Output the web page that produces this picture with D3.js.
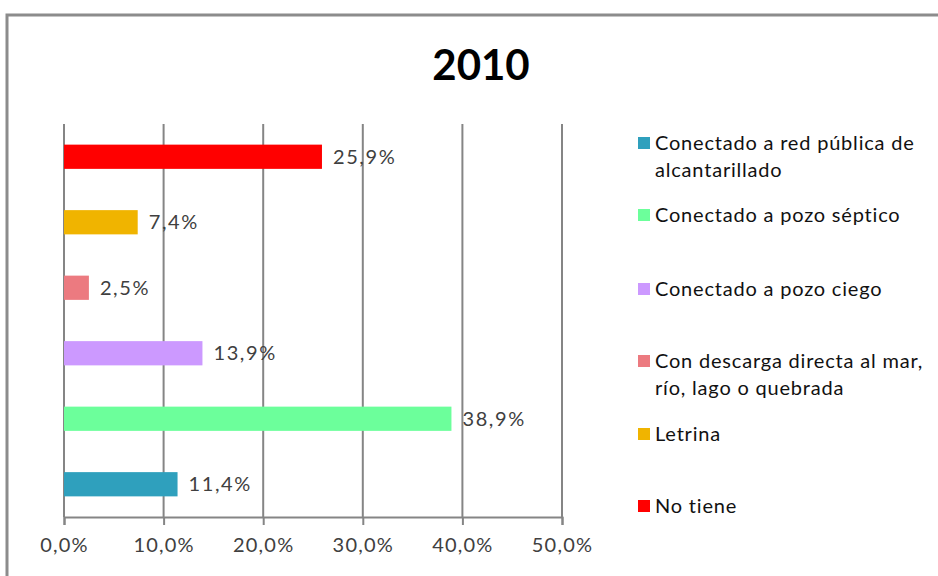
<!DOCTYPE html>
<html>
<meta charset="utf-8">
<style>
body { margin: 0; background: #fff; }
text { font-family: Lato, "Open Sans", sans-serif; }
</style>
<head>
<script src="https://cdn.jsdelivr.net/npm/d3@7"></script>
</head>
<body>
<script>
// categories listed bottom to top (same order as the legend)
var categories = ["Conectado a red pública de alcantarillado", "Conectado a pozo séptico",
                  "Conectado a pozo ciego", "Con descarga directa al mar, río, lago o quebrada",
                  "Letrina", "No tiene"];
var legendLines = [["Conectado a red pública de", "alcantarillado"], ["Conectado a pozo séptico"],
                   ["Conectado a pozo ciego"], ["Con descarga directa al mar,", "río, lago o quebrada"],
                   ["Letrina"], ["No tiene"]];
var values = [11.4, 38.9, 13.9, 2.5, 7.4, 25.9];
var colors = ["#2fa0bd", "#6cff9b", "#cc99ff", "#ec7a80", "#f0b400", "#ff0000"];
var ticks = [0, 10, 20, 30, 40, 50];
var title = "2010";

var width = 938, height = 576;
var svg = d3.select("body").append("svg")
    .attr("width", width)
    .attr("height", height);

// outer frame of the chart
svg.append("path")
    .attr("d", "M7,576 L7,15 L938,15")
    .attr("fill", "none")
    .attr("stroke", "#8c8c8c")
    .attr("stroke-width", 3);

svg.append("text")
    .attr("x", 481).attr("y", 80)
    .attr("text-anchor", "middle")
    .style("font-size", "42px")
    .style("font-weight", "bold")
    .style("fill", "#000")
    .text(title);

var x = d3.scaleLinear().domain([0, 50]).range([64, 562]);
var y = d3.scaleBand().domain(categories).range([517, 124])
    .paddingInner(0.63).paddingOuter(0.315);

var fmt = function(v) { return d3.format(".1f")(v).replace(".", ",") + "%"; };

// vertical gridlines
svg.append("g").selectAll("line")
    .data(ticks)
    .enter().append("line")
    .attr("x1", function(d) { return x(d); })
    .attr("x2", function(d) { return x(d); })
    .attr("y1", 124).attr("y2", 517)
    .attr("stroke", "#858585")
    .attr("stroke-width", 2);

var axis = svg.append("g")
    .attr("transform", "translate(0,517)")
    .call(d3.axisBottom(x).tickValues(ticks).tickSize(8).tickPadding(13).tickFormat(fmt));
axis.select(".domain").attr("stroke", "#858585").attr("stroke-width", 2);
axis.selectAll(".tick line").attr("stroke", "#858585").attr("stroke-width", 2);
axis.selectAll("text")
    .style("font-size", "20px")
    .style("letter-spacing", "1.2px")
    .style("font-family", "Lato, 'Open Sans', sans-serif")
    .attr("fill", "#404040");

svg.append("g").selectAll("rect")
    .data(values)
    .enter().append("rect")
    .attr("x", x(0))
    .attr("y", function(d, i) { return y(categories[i]); })
    .attr("width", function(d) { return x(d) - x(0); })
    .attr("height", y.bandwidth())
    .attr("fill", function(d, i) { return colors[i]; });

svg.append("g").selectAll("text")
    .data(values)
    .enter().append("text")
    .attr("x", function(d) { return x(d) + 11; })
    .attr("y", function(d, i) { return y(categories[i]) + y.bandwidth() / 2; })
    .attr("dy", "0.35em")
    .style("font-size", "20px")
    .style("letter-spacing", "1.6px")
    .attr("fill", "#404040")
    .text(function(d) { return fmt(d); });

// legend
var legendY = [143, 215, 289, 361, 434, 506];
var leg = svg.append("g").selectAll("g")
    .data(categories)
    .enter().append("g")
    .attr("transform", function(d, i) { return "translate(638," + legendY[i] + ")"; });
leg.append("rect")
    .attr("x", 0).attr("y", -6)
    .attr("width", 12).attr("height", 12)
    .attr("fill", function(d, i) { return colors[i]; });
leg.append("text")
    .style("font-size", "20px")
    .style("letter-spacing", "0.8px")
    .attr("fill", "#111")
    .selectAll("tspan")
    .data(function(d, i) { return legendLines[i]; })
    .enter().append("tspan")
    .attr("x", 17)
    .attr("y", function(d, j) { return j * 27 + 7; })
    .text(function(d) { return d; });
</script>
</body>
</html>
